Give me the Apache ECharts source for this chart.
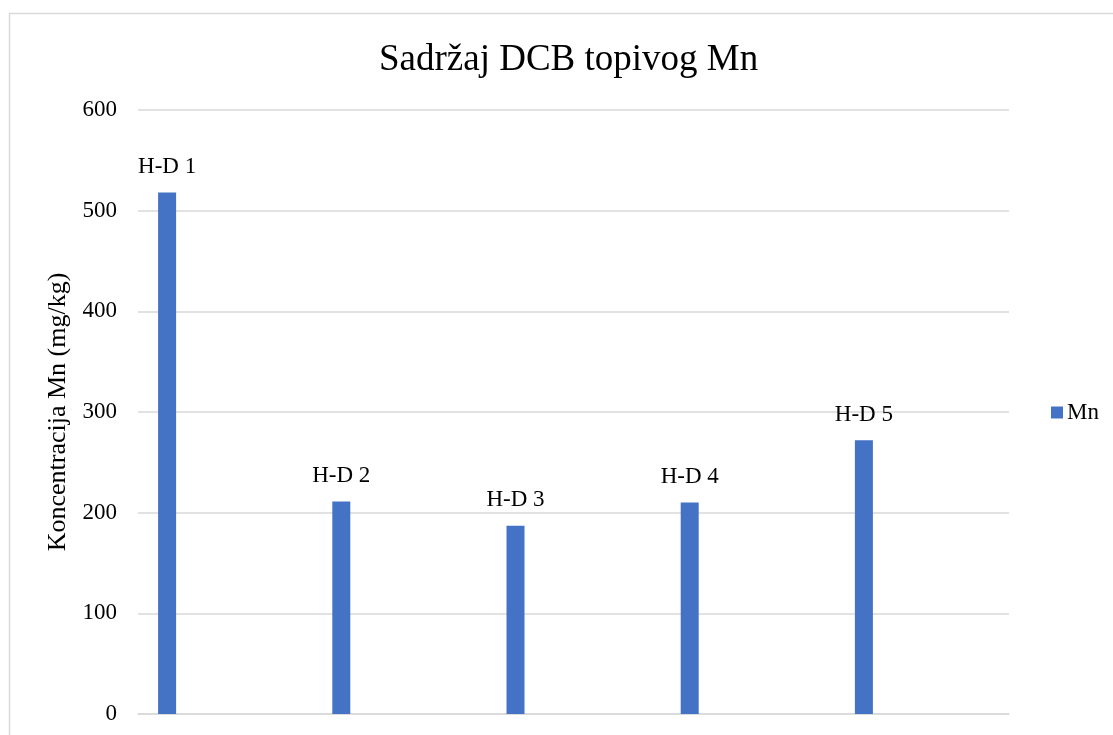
<!DOCTYPE html>
<html>
<head>
<meta charset="utf-8">
<script src="https://cdn.jsdelivr.net/npm/echarts@6/dist/echarts.min.js"></script>
<style>
  html, body { margin: 0; padding: 0; background: #fff; }
  #main { width: 1113px; height: 735px; }
</style>
</head>
<body>
<div id="main"></div>
<script>
// podaci
var categories = ['H-D 1', 'H-D 2', 'H-D 3', 'H-D 4', 'H-D 5'];
var mnValues = [518, 211, 187, 210, 272];
var yTicks = [0, 100, 200, 300, 400, 500, 600];

var font = '"Liberation Serif", "Times New Roman", serif';
var chart = echarts.init(document.getElementById('main'));

var option = {
  backgroundColor: '#fff',
  textStyle: { fontFamily: font },
  graphic: [{
    type: 'rect',
    shape: { x: 9.5, y: 13.5, width: 1200, height: 800 },
    style: { fill: 'none', stroke: '#d9d9d9', lineWidth: 1.5 },
    silent: true
  }],
  title: {
    text: 'Sadržaj DCB topivog Mn',
    left: 379,
    top: 42,
    padding: 0,
    textStyle: { fontFamily: font, fontSize: 37, fontWeight: 'normal', color: '#000' }
  },
  legend: {
    data: ['Mn'],
    left: 1051,
    top: 401,
    padding: 0,
    itemWidth: 12,
    itemHeight: 12,
    icon: 'rect',
    itemGap: 4,
    textStyle: { fontFamily: font, fontSize: 23, color: '#000', padding: [0, 0, 0, -1] }
  },
  grid: { left: 138, right: 104, top: 110, bottom: 21 },
  xAxis: {
    type: 'category',
    data: categories,
    axisLine: { lineStyle: { color: '#d9d9d9', width: 1.5 } },
    axisTick: { show: false },
    axisLabel: { show: false }
  },
  yAxis: {
    type: 'value',
    min: yTicks[0],
    max: yTicks[yTicks.length - 1],
    interval: 100,
    name: 'Koncentracija Mn (mg/kg)',
    nameLocation: 'middle',
    nameGap: 64,
    nameTextStyle: { fontFamily: font, fontSize: 26, color: '#000' },
    axisLine: { show: false },
    axisTick: { show: false },
    axisLabel: { fontFamily: font, fontSize: 23, color: '#000', margin: 21 },
    splitLine: { lineStyle: { color: '#d9d9d9', width: 1.5 } }
  },
  series: [
    {
      name: 'Mn',
      type: 'bar',
      data: mnValues,
      barWidth: 18,
      barGap: '0%',
      itemStyle: { color: '#4472c4' },
      label: {
        show: true,
        position: 'top',
        distance: 14,
        formatter: '{b}',
        fontFamily: font,
        fontSize: 23,
        color: '#000'
      }
    },
    {
      // prazan niz samo za pomak stupca ulijevo, kao u Excelu
      name: 'spacer',
      type: 'bar',
      data: [],
      barWidth: 116,
      silent: true
    }
  ]
};

chart.setOption(option);
</script>
</body>
</html>
